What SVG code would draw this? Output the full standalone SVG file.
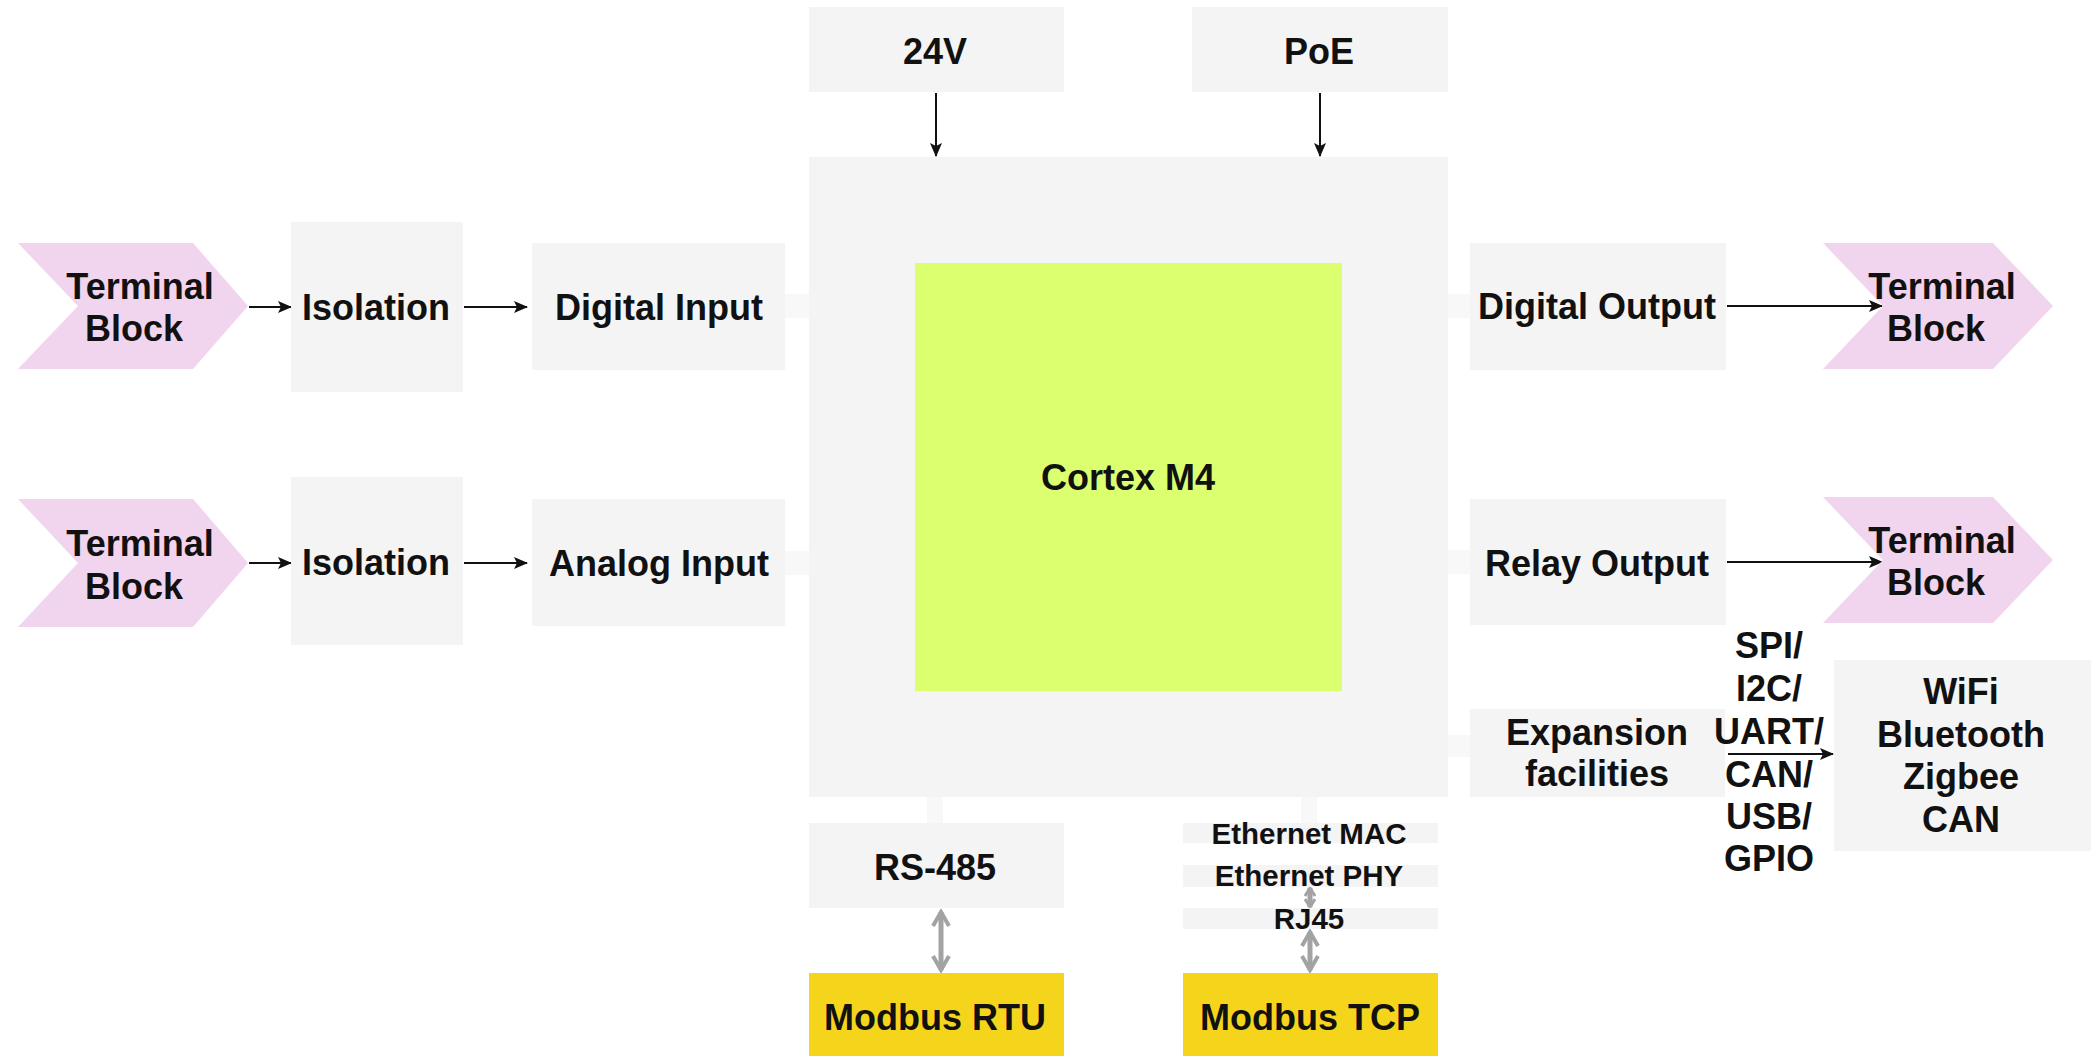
<svg xmlns="http://www.w3.org/2000/svg" width="2091" height="1056" viewBox="0 0 2091 1056">
<defs>
<style>
.box{fill:#f4f4f4}
.term{fill:#f1d4ed}
.t{font-family:"Liberation Sans",Arial,sans-serif;font-weight:bold;font-size:36px;fill:#111;text-anchor:middle}
.s{font-size:29.5px}
.c{stroke:#111;stroke-width:2;fill:none}
.g{stroke:#a3a3a3;stroke-width:5;fill:none}
.stub{fill:#f8f8f8}
</style>
<marker id="ah" viewBox="0 0 14 14" refX="13" refY="7" markerWidth="14" markerHeight="14" markerUnits="userSpaceOnUse" orient="auto">
<path d="M0,1 L14,7 L0,13 L3,7 Z" fill="#111"/>
</marker>
<marker id="gh" viewBox="0 0 20 20" refX="17" refY="10" markerWidth="20" markerHeight="20" markerUnits="userSpaceOnUse" orient="auto-start-reverse">
<path d="M3,2 L17,10 L3,18" fill="none" stroke="#a3a3a3" stroke-width="4"/>
</marker>
<marker id="gs" viewBox="0 0 12 12" refX="10" refY="6" markerWidth="12" markerHeight="12" markerUnits="userSpaceOnUse" orient="auto-start-reverse">
<path d="M2,1 L10,6 L2,11" fill="none" stroke="#a3a3a3" stroke-width="3"/>
</marker>
</defs>
<rect width="2091" height="1056" fill="#ffffff"/>

<g id="connectors">
<rect class="stub" x="785" y="294" width="24" height="24"/>
<rect class="stub" x="785" y="551" width="24" height="24"/>
<rect class="stub" x="1448" y="294" width="22" height="24"/>
<rect class="stub" x="1448" y="550" width="22" height="24"/>
<rect class="stub" x="1448" y="735" width="22" height="22"/>
<rect class="stub" x="927" y="797" width="16" height="26"/>
<rect class="stub" x="1301" y="797" width="16" height="26"/>
<line class="c" x1="249" y1="307" x2="291" y2="307" marker-end="url(#ah)"/>
<line class="c" x1="464" y1="307" x2="527" y2="307" marker-end="url(#ah)"/>
<line class="c" x1="249" y1="563" x2="291" y2="563" marker-end="url(#ah)"/>
<line class="c" x1="464" y1="563" x2="527" y2="563" marker-end="url(#ah)"/>
<line class="c" x1="936" y1="93" x2="936" y2="156" marker-end="url(#ah)"/>
<line class="c" x1="1320" y1="93" x2="1320" y2="156" marker-end="url(#ah)"/>
<line class="c" x1="1727" y1="306" x2="1882" y2="306" marker-end="url(#ah)"/>
<line class="c" x1="1727" y1="562" x2="1882" y2="562" marker-end="url(#ah)"/>
<line class="c" x1="1728" y1="754" x2="1833" y2="754" marker-end="url(#ah)"/>
<line class="g" x1="941" y1="912" x2="941" y2="970" marker-start="url(#gh)" marker-end="url(#gh)"/>
<line class="g" x1="1310" y1="932" x2="1310" y2="970" marker-start="url(#gh)" marker-end="url(#gh)"/>
<line class="g" x1="1310" y1="888" x2="1310" y2="907" stroke-width="3" marker-start="url(#gs)" marker-end="url(#gs)"/>
</g>

<g id="mcu-board">
<rect class="box" x="809" y="157" width="639" height="640"/>
</g>
<g id="cortex-m4">
<rect x="915" y="263" width="427" height="428" fill="#dbff6f"/>
<text class="t" x="1128" y="490">Cortex M4</text>
</g>

<g id="power-24v">
<rect class="box" x="809" y="7" width="255" height="85"/>
<text class="t" x="935" y="64">24V</text>
</g>
<g id="power-poe">
<rect class="box" x="1192" y="7" width="256" height="85"/>
<text class="t" x="1319" y="64">PoE</text>
</g>

<g id="terminal-in-1">
<path class="term" d="M18,243 L193,243 L248,306 L193,369 L18,369 L78,306 Z"/>
<text class="t" x="140" y="299">Terminal</text>
<text class="t" x="134" y="341">Block</text>
</g>
<g id="terminal-in-2">
<path class="term" d="M18,499 L193,499 L248,563 L193,627 L18,627 L78,563 Z"/>
<text class="t" x="140" y="556">Terminal</text>
<text class="t" x="134" y="599">Block</text>
</g>

<g id="isolation-1">
<rect class="box" x="291" y="222" width="172" height="170"/>
<text class="t" x="376" y="320">Isolation</text>
</g>
<g id="isolation-2">
<rect class="box" x="291" y="477" width="172" height="168"/>
<text class="t" x="376" y="575">Isolation</text>
</g>

<g id="digital-input">
<rect class="box" x="532" y="243" width="253" height="127"/>
<text class="t" x="659" y="320">Digital Input</text>
</g>
<g id="analog-input">
<rect class="box" x="532" y="499" width="253" height="127"/>
<text class="t" x="659" y="576">Analog Input</text>
</g>

<g id="digital-output">
<rect class="box" x="1470" y="243" width="256" height="127"/>
<text class="t" x="1597" y="319">Digital Output</text>
</g>
<g id="relay-output">
<rect class="box" x="1470" y="499" width="256" height="126"/>
<text class="t" x="1597" y="576">Relay Output</text>
</g>

<g id="terminal-out-1">
<path class="term" d="M1823,243 L1993,243 L2053,306 L1993,369 L1823,369 L1883,306 Z"/>
<text class="t" x="1942" y="299">Terminal</text>
<text class="t" x="1936" y="341">Block</text>
</g>
<g id="terminal-out-2">
<path class="term" d="M1823,497 L1993,497 L2053,560 L1993,623 L1823,623 L1883,560 Z"/>
<text class="t" x="1942" y="553">Terminal</text>
<text class="t" x="1936" y="595">Block</text>
</g>

<g id="expansion">
<rect class="box" x="1470" y="709" width="255" height="88"/>
<text class="t" x="1597" y="745">Expansion</text>
<text class="t" x="1597" y="786">facilities</text>
</g>
<g id="bus-label">
<text class="t" x="1769" y="658">SPI/</text>
<text class="t" x="1769" y="701">I2C/</text>
<text class="t" x="1769" y="744">UART/</text>
<text class="t" x="1769" y="787">CAN/</text>
<text class="t" x="1769" y="829">USB/</text>
<text class="t" x="1769" y="871">GPIO</text>
</g>
<g id="wireless">
<rect class="box" x="1834" y="660" width="257" height="191"/>
<text class="t" x="1961" y="704">WiFi</text>
<text class="t" x="1961" y="747">Bluetooth</text>
<text class="t" x="1961" y="789">Zigbee</text>
<text class="t" x="1961" y="832">CAN</text>
</g>

<g id="rs485">
<rect class="box" x="809" y="823" width="255" height="85"/>
<text class="t" x="935" y="880">RS-485</text>
</g>
<g id="ethernet-mac">
<rect class="box" x="1183" y="823" width="255" height="20"/>
<text class="t s" x="1309" y="844">Ethernet MAC</text>
</g>
<g id="ethernet-phy">
<rect class="box" x="1183" y="865" width="255" height="22"/>
<text class="t s" x="1309" y="886">Ethernet PHY</text>
</g>
<g id="rj45">
<rect class="box" x="1183" y="908" width="255" height="21"/>
<text class="t s" x="1309" y="929">RJ45</text>
</g>

<g id="modbus-rtu">
<rect x="809" y="973" width="255" height="83" fill="#f4d51c"/>
<text class="t" x="935" y="1030">Modbus RTU</text>
</g>
<g id="modbus-tcp">
<rect x="1183" y="973" width="255" height="83" fill="#f4d51c"/>
<text class="t" x="1310" y="1030">Modbus TCP</text>
</g>
</svg>
